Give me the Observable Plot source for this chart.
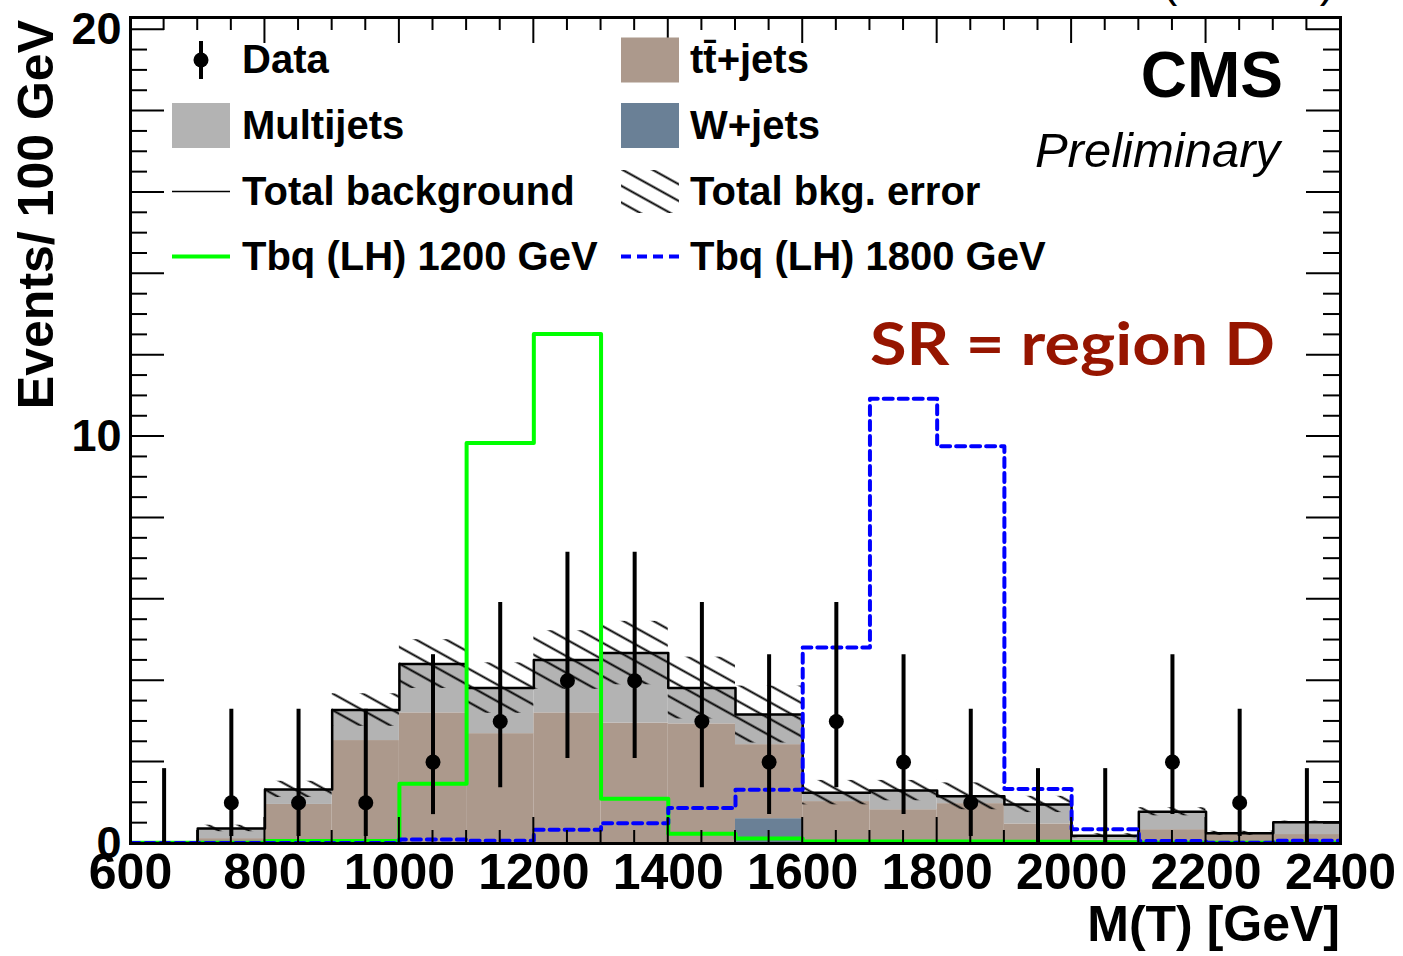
<!DOCTYPE html>
<html><head><meta charset="utf-8">
<script src="https://cdn.jsdelivr.net/npm/d3@7"></script>
<script src="https://cdn.jsdelivr.net/npm/@observablehq/plot@0.6"></script>
<style>
html,body{margin:0;padding:0;background:#fff;}
#chart{position:relative;width:1403px;height:956px;overflow:hidden;}
#chart svg{overflow:visible;display:block;}
</style></head><body><div id="chart"></div>
<script>
// ---- data ----
const binLow = [600,700,800,900,1000,1100,1200,1300,1400,1500,1600,1700,1800,1900,2000,2100,2200,2300];
const binWidth = 100;
const dataCounts  = [0,1,1,1,2,3,4,4,3,2,3,2,1,0,0,2,1,0];
const dataErrLow  = [0,0.83,0.83,0.83,1.29,1.63,1.91,1.91,1.63,1.29,1.63,1.29,0.83,0,0,1.29,0.83,0];
const dataErrHigh = [1.84,2.30,2.30,2.30,2.64,2.92,3.16,3.16,2.92,2.64,2.92,2.64,2.30,1.84,1.84,2.64,2.30,1.84];
const wjets     = [0,0,0,0,0,0,0,0,0,0.61,0,0,0,0,0,0,0,0];
const ttbar     = [0,0.12,0.96,2.53,3.21,2.70,3.21,2.96,2.94,1.82,1.03,0.83,0.98,0.48,0.08,0.34,0.23,0.22];
const multijets = [0,0.25,0.37,0.75,1.20,1.12,1.30,1.72,0.88,0.74,0.22,0.47,0.18,0.48,0.11,0.44,0.02,0.30];
const bkgError  = [0,0.08,0.20,0.40,0.60,0.62,0.72,0.78,0.76,0.70,0.30,0.25,0.33,0.20,0.05,0.10,0.05,0.03];
const tbq1200   = [0.02,0.02,0.06,0.06,1.47,9.84,12.52,1.10,0.24,0.12,0.05,0.05,0.05,0.04,0.03,0.02,0.02,0.02];
const tbq1800   = [0.01,0.01,0.01,0.01,0.10,0.07,0.34,0.50,0.87,1.32,4.82,10.93,9.76,1.34,0.35,0.06,0.02,0.07];
const xTickLabels = [600,800,1000,1200,1400,1600,1800,2000,2200,2400];
const yTickLabels = [0,10,20];
const legendLabels = ["Data","tt\u0304+jets","Multijets","W+jets","Total background","Total bkg. error","Tbq (LH) 1200 GeV","Tbq (LH) 1800 GeV"];

const colTT = "#ac998c", colMJ = "#b3b3b3", colW = "#6a8096";
const colG = "#00ff00", colB = "#0000ff";

// ---- derived tables ----
const bins = binLow.map((lo,i)=>{
  const w = wjets[i], t = ttbar[i], m = multijets[i];
  return {x1: lo, x2: lo+binWidth, xc: lo+binWidth/2, w, wt: w+t, tot: w+t+m, err: bkgError[i],
          n: dataCounts[i], lo: dataCounts[i]-dataErrLow[i], hi: dataCounts[i]+dataErrHigh[i]};
});
function steps(vals){ const pts = binLow.map((lo,i)=>({x: lo, y: vals[i]})); pts.push({x: binLow[binLow.length-1]+binWidth, y: vals[vals.length-1]}); return pts; }
const totalVals = bins.map(b=>b.tot);

const F = "'Liberation Sans', Arial, Helvetica, sans-serif";

const plot = Plot.plot({
  width: 1403, height: 956,
  marginLeft: 130, marginRight: 63, marginTop: 17, marginBottom: 113,
  x: {domain: [600, 2400], axis: null},
  y: {domain: [0, 20.3], axis: null},
  style: {fontFamily: F, background: "white", overflow: "visible"},
  marks: [
    Plot.rect(bins, {x1: "x1", x2: "x2", y1: 0, y2: "w", fill: colW, clip: true}),
    Plot.rect(bins, {x1: "x1", x2: "x2", y1: "w", y2: "wt", fill: colTT, clip: true}),
    Plot.rect(bins, {x1: "x1", x2: "x2", y1: "wt", y2: "tot", fill: colMJ, clip: true}),
    Plot.line(steps(totalVals), {x: "x", y: "y", curve: "step-after", stroke: "black", strokeWidth: 2.5, clip: true}),
    Plot.rect(bins.filter(b=>b.err>0), {x1: "x1", x2: "x2", y1: d=>d.tot-d.err, y2: d=>d.tot+d.err, fill: "url(#hatch)", clip: true}),
    Plot.line(steps(tbq1200), {x: "x", y: "y", curve: "step-after", stroke: colG, strokeWidth: 4, clip: true}),
    Plot.line(steps(tbq1800), {x: "x", y: "y", curve: "step-after", stroke: colB, strokeWidth: 4, strokeDasharray: "9,6", clip: true}),
    Plot.ruleX(bins, {x: "xc", y1: "lo", y2: "hi", stroke: "black", strokeWidth: 4, clip: true}),
    Plot.dot(bins.filter(b=>b.n>0), {x: "xc", y: "n", r: 7.5, fill: "black", stroke: "none"}),
    Plot.frame({stroke: "black", strokeWidth: 3}),
    Plot.text(xTickLabels, {x: d=>d, y: 0, text: d=>String(d), dy: 10, lineAnchor: "top", textAnchor: "middle", fontSize: 50, fontWeight: "bold", fill: "black"}),
    Plot.text(yTickLabels, {x: 600, y: d=>d, text: d=>String(d), dx: -9, lineAnchor: "middle", textAnchor: "end", fontSize: 45, fontWeight: "bold", fill: "black"})
  ]
});

document.getElementById("chart").appendChild(plot);
const svg = d3.select(plot);
const xs = plot.scale("x"), ys = plot.scale("y");

// hatch pattern
svg.insert("defs", ":first-child").html(
  '<pattern id="hatch" patternUnits="userSpaceOnUse" width="40" height="14.6" patternTransform="rotate(29)">' +
  '<line x1="0" y1="7.3" x2="40" y2="7.3" stroke="black" stroke-width="2"/></pattern>');

// frame ticks (ROOT style, inside, all four sides)
const X0 = xs.apply(600), X1 = xs.apply(2400), Y0 = ys.apply(0), Y1 = ys.apply(20.3);
const tg = svg.append("g").attr("stroke", "black").attr("stroke-width", 2);
d3.range(600, 2401, 50).forEach(v=>{
  const len = v % 200 === 0 ? 26 : 13; const px = xs.apply(v);
  tg.append("line").attr("x1", px).attr("x2", px).attr("y1", Y0).attr("y2", Y0-len);
  tg.append("line").attr("x1", px).attr("x2", px).attr("y1", Y1).attr("y2", Y1+len);
});
d3.range(0, 20.01, 0.5).forEach(v=>{
  const len = Math.abs(v/2 - Math.round(v/2)) < 1e-6 ? 34 : 17; const py = ys.apply(v);
  tg.append("line").attr("x1", X0).attr("x2", X0+len).attr("y1", py).attr("y2", py);
  tg.append("line").attr("x1", X1).attr("x2", X1-len).attr("y1", py).attr("y2", py);
});

// text helper
function txt(x, y, s, opts = {}){
  const t = svg.append("text").attr("x", x).attr("y", y).text(s)
    .attr("font-family", opts.family || F).attr("font-size", opts.size || 40)
    .attr("font-weight", opts.weight || "bold").attr("fill", opts.fill || "black")
    .attr("text-anchor", opts.anchor || "start");
  if (opts.style) t.attr("font-style", opts.style);
  if (opts.transform) t.attr("transform", opts.transform);
  if (opts.textLength) t.attr("textLength", opts.textLength).attr("lengthAdjust", "spacingAndGlyphs");
  return t;
}

// axis titles
txt(0, 0, "Events/ 100 GeV", {size: 50, anchor: "end", transform: "translate(53,20) rotate(-90)"});
txt(1340, 941, "M(T) [GeV]", {size: 50, anchor: "end"});
// top-right lumi text (mostly outside the picture)
txt(1335, -4, "35.9 fb\u207B\u00B9 (13 TeV)", {size: 46, weight: "normal", anchor: "end"});

// CMS labels
txt(1283, 97, "CMS", {size: 64, anchor: "end"});
txt(1280, 167, "Preliminary", {size: 49, weight: "normal", style: "italic", anchor: "end"});
txt(870, 365, "SR = region D", {size: 60, anchor: "start", fill: "#961500", family: "Lato, 'Open Sans', sans-serif", textLength: 405});

// legend
const lg = svg.append("g");
const rowY = [60, 125.5, 191.5, 256.5];
const c1 = 172, c2 = 621, sw = 58, t1 = 242, t2 = 690;
// Data
lg.append("line").attr("x1", 201).attr("x2", 201).attr("y1", rowY[0]-19).attr("y2", rowY[0]+19).attr("stroke", "black").attr("stroke-width", 4);
lg.append("circle").attr("cx", 201).attr("cy", rowY[0]).attr("r", 7.5).attr("fill", "black");
txt(t1, rowY[0]+13, legendLabels[0]);
// ttbar
lg.append("rect").attr("x", c2).attr("y", rowY[0]-22.5).attr("width", sw).attr("height", 45).attr("fill", colTT);
txt(t2, rowY[0]+13, legendLabels[1]);
// Multijets
lg.append("rect").attr("x", c1).attr("y", rowY[1]-22.5).attr("width", sw).attr("height", 45).attr("fill", colMJ);
txt(t1, rowY[1]+13, legendLabels[2]);
// W+jets
lg.append("rect").attr("x", c2).attr("y", rowY[1]-22.5).attr("width", sw).attr("height", 45).attr("fill", colW);
txt(t2, rowY[1]+13, legendLabels[3]);
// Total background
lg.append("line").attr("x1", c1).attr("x2", c1+sw).attr("y1", rowY[2]).attr("y2", rowY[2]).attr("stroke", "black").attr("stroke-width", 1.5);
txt(t1, rowY[2]+13, legendLabels[4]);
// Total bkg error
lg.append("rect").attr("x", c2).attr("y", rowY[2]-21.5).attr("width", sw).attr("height", 43).attr("fill", "url(#hatch)");
txt(t2, rowY[2]+13, legendLabels[5]);
// Signals
lg.append("line").attr("x1", c1).attr("x2", c1+sw).attr("y1", rowY[3]).attr("y2", rowY[3]).attr("stroke", colG).attr("stroke-width", 4);
txt(t1, rowY[3]+13, legendLabels[6]);
lg.append("line").attr("x1", c2).attr("x2", c2+sw).attr("y1", rowY[3]).attr("y2", rowY[3]).attr("stroke", colB).attr("stroke-width", 4).attr("stroke-dasharray", "10,6");
txt(t2, rowY[3]+13, legendLabels[7]);
</script>
</body></html>
